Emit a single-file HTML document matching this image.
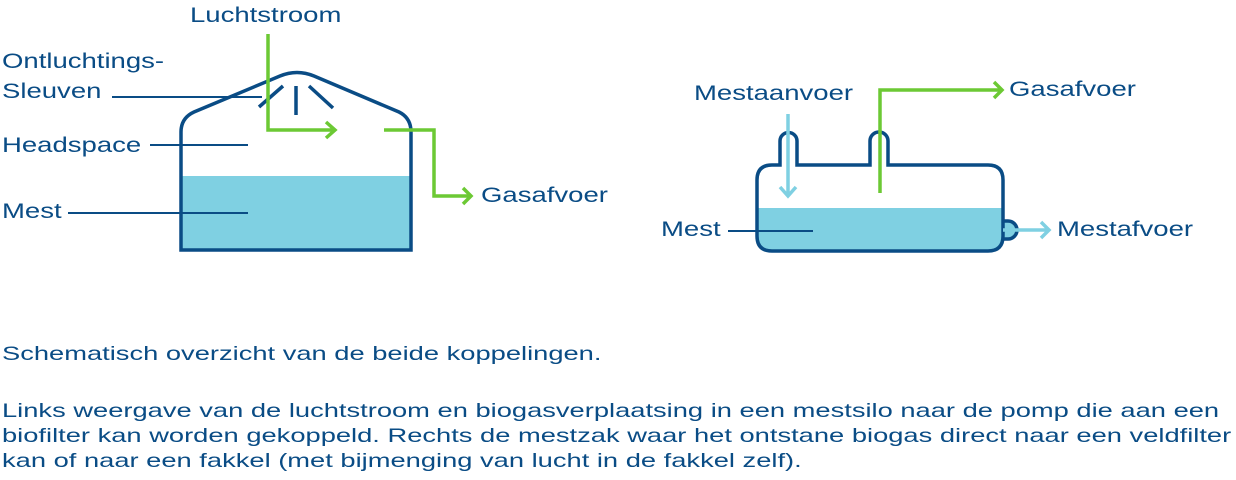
<!DOCTYPE html>
<html><head><style>
body{margin:0;width:1236px;height:480px;background:#fff;overflow:hidden;font-family:"Liberation Sans",sans-serif;color:#0a4c85}
.t{position:absolute;font-size:21px;white-space:nowrap;transform:scaleX(1.31);transform-origin:0 0}
.p{position:absolute;left:2px;font-size:19.5px;line-height:25px;color:#0a4c85;white-space:nowrap;transform:scaleX(1.4);transform-origin:0 0}
</style></head><body>
<svg width="1236" height="480" style="position:absolute;left:0;top:0">
<g fill="none" stroke-linecap="butt">
<rect x="181" y="176" width="230" height="75" fill="#7fd0e2" stroke="none"/>
<path d="M181,250 V132 Q181,118 194,112 L280,76 Q297,69 314,76 L399,112 Q411,118 411,132 V250 Z" stroke="#0a4c85" stroke-width="3.5"/>
<path d="M259,107 L283,86 M296,86 V115 M309,86 L333,108" stroke="#0a4c85" stroke-width="3.5"/>
<path d="M112,97 H262 M150,145 H248 M68,213 H248" stroke="#0a4c85" stroke-width="2"/>
<path d="M268,34 V130 H335 M326,122 L335,130 L326,138" stroke="#6cc934" stroke-width="3.5"/>
<path d="M384,130 H434 V196 H471 M463,188 L471,196 L463,204" stroke="#6cc934" stroke-width="3.5"/>
<path d="M1003,221 h5 a9 9 0 0 1 0 18 h-5" fill="#7fd0e2" stroke="#0a4c85" stroke-width="3.5"/>
<path d="M757,208 H1003 V236 Q1003,251 988,251 H772 Q757,251 757,236 Z" fill="#7fd0e2" stroke="none"/>
<path d="M772,165 H780 V141 a8.5 8.5 0 0 1 17 0 V165 H870 V141 a9 9 0 0 1 18 0 V165 H988 Q1003,165 1003,180 V236 Q1003,251 988,251 H772 Q757,251 757,236 V180 Q757,165 772,165 Z" stroke="#0a4c85" stroke-width="3.5"/>
<path d="M728,231 H813" stroke="#0a4c85" stroke-width="2"/>
<path d="M788,114 V196 M780,187 L788,196 L796,187" stroke="#7fd0e2" stroke-width="3.5"/>
<path d="M1003,230 H1049 M1041,222 L1049,230 L1041,238" stroke="#7fd0e2" stroke-width="3.5"/>
<path d="M880,193 V90 H1002 M994,82 L1002,90 L994,98" stroke="#6cc934" stroke-width="3.5"/>
</g>
</svg>
<div class="t" style="left:190px;top:4px">Luchtstroom</div>
<div class="t" style="left:2px;top:50px">Ontluchtings-</div>
<div class="t" style="left:2px;top:80px">Sleuven</div>
<div class="t" style="left:2px;top:134px">Headspace</div>
<div class="t" style="left:2px;top:200px">Mest</div>
<div class="t" style="left:481px;top:184px">Gasafvoer</div>
<div class="t" style="left:694px;top:82px">Mestaanvoer</div>
<div class="t" style="left:1009px;top:78px">Gasafvoer</div>
<div class="t" style="left:661px;top:218px">Mest</div>
<div class="t" style="left:1057px;top:218px">Mestafvoer</div>
<div class="p" style="top:342px">Schematisch overzicht van de beide koppelingen.</div>
<div class="p" style="top:399px">Links weergave van de luchtstroom en biogasverplaatsing in een mestsilo naar de pomp die aan een<br>biofilter kan worden gekoppeld. Rechts de mestzak waar het ontstane biogas direct naar een veldfilter<br>kan of naar een fakkel (met bijmenging van lucht in de fakkel zelf).</div>
</body></html>
